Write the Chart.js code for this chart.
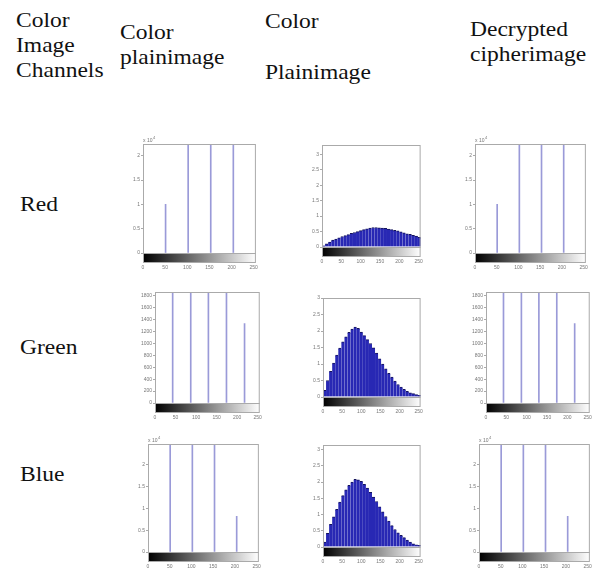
<!DOCTYPE html>
<html>
<head>
<meta charset="utf-8">
<script src="https://cdn.jsdelivr.net/npm/chart.js@4"></script>
<style>
  body { margin: 0; background: #fff; }
  #page { position: relative; width: 603px; height: 570px; overflow: hidden; }
  .txt { position: absolute; font-family: "Liberation Serif", "Times New Roman", serif; font-size: 21px; line-height: 21px; color: #111; white-space: nowrap; transform: scaleX(1.12); transform-origin: left; }
  canvas { position: absolute; }
</style>
</head>
<body>
<div id="page">
  <div class="txt" style="left:16px;top:10px">Color</div>
  <div class="txt" style="left:16px;top:35px">Image</div>
  <div class="txt" style="left:16px;top:60px">Channels</div>
  <div class="txt" style="left:120px;top:22px">Color</div>
  <div class="txt" style="left:120px;top:47px">plainimage</div>
  <div class="txt" style="left:265px;top:11px">Color</div>
  <div class="txt" style="left:265px;top:62px">Plainimage</div>
  <div class="txt" style="left:470px;top:19px">Decrypted</div>
  <div class="txt" style="left:470px;top:44px">cipherimage</div>
  <div class="txt" style="left:20px;top:194px">Red</div>
  <div class="txt" style="left:20px;top:337px">Green</div>
  <div class="txt" style="left:20px;top:464px">Blue</div>
</div>
<script>
// x axis of every imhist panel
const xTicks = [0, 50, 100, 150, 200, 250];

// stem histograms (plain image / decrypted image)
const redLevels = [51, 102, 153, 204];
const redCounts = [1.0, 2.24, 2.24, 2.24];        // x 10^4
const redTicks = [0, 0.5, 1, 1.5, 2];

const greenLevels = [43, 87, 130, 174, 218];
const greenCounts = [1860, 1860, 1860, 1860, 1330];
const greenTicks = [0, 200, 400, 600, 800, 1000, 1200, 1400, 1600, 1800];

const blueLevels = [51, 102, 153, 204];
const blueCounts = [2.47, 2.47, 2.47, 0.815];     // x 10^4
const blueTicks = [0, 0.5, 1, 1.5, 2];

// middle column histograms, read every 8 grey levels
const binCenters = [4, 12, 20, 28, 36, 44, 52, 60, 68, 76, 84, 92, 100, 108, 116, 124,
                    132, 140, 148, 156, 164, 172, 180, 188, 196, 204, 212, 220, 228, 236, 244, 252];
const redPlain = [0.04, 0.10, 0.16, 0.22, 0.26, 0.30, 0.34, 0.37, 0.40, 0.44, 0.47, 0.50, 0.53, 0.56, 0.59, 0.61,
                  0.63, 0.63, 0.62, 0.61, 0.60, 0.58, 0.56, 0.54, 0.52, 0.49, 0.46, 0.43, 0.41, 0.38, 0.35, 0.31];
const greenPlain = [0.20, 0.50, 0.78, 1.03, 1.27, 1.48, 1.67, 1.82, 1.96, 2.06, 2.12, 2.08, 1.97, 1.86, 1.74, 1.62,
                    1.49, 1.33, 1.16, 1.00, 0.85, 0.72, 0.60, 0.48, 0.38, 0.30, 0.23, 0.17, 0.13, 0.10, 0.07, 0.05];
const bluePlain = [0.15, 0.42, 0.70, 0.93, 1.16, 1.38, 1.58, 1.76, 1.90, 2.00, 2.08, 2.07, 2.02, 1.93, 1.81, 1.68,
                   1.54, 1.40, 1.24, 1.08, 0.94, 0.80, 0.66, 0.54, 0.44, 0.36, 0.29, 0.21, 0.15, 0.10, 0.07, 0.05];
const plainTicks = [0, 0.5, 1, 1.5, 2, 2.5, 3];

// box, grey colour bar and exponent label, like matlab imhist
const imhistDecor = {
  id: 'imhistDecor',
  afterDraw(chart, args, opts) {
    const ctx = chart.ctx;
    const a = chart.chartArea;
    const xs = chart.scales.x;
    const x0 = xs.getPixelForValue(0), x1 = xs.getPixelForValue(255);
    ctx.save();
    const g = ctx.createLinearGradient(x0, 0, x1, 0);
    g.addColorStop(0, '#000');
    g.addColorStop(1, '#fff');
    ctx.fillStyle = g;
    ctx.fillRect(x0, a.bottom, x1 - x0, 9);
    ctx.strokeStyle = '#aaa';
    ctx.lineWidth = 1;
    ctx.strokeRect(x0 + 0.5, a.bottom + 0.5, x1 - x0 - 1, 9);
    ctx.strokeRect(a.left + 0.5, a.top + 0.5, a.right - a.left - 1, a.bottom - a.top);
    if (opts.exp) {
      ctx.fillStyle = '#777';
      ctx.font = '5px "Liberation Sans"';
      ctx.fillText('x 10', a.left, a.top - 2);
      ctx.font = '4px "Liberation Sans"';
      ctx.fillText(opts.exp, a.left + 10, a.top - 5);
    }
    ctx.restore();
  }
};

function panel(rect, levels, counts, ticks, ymax, exp, dense) {
  const [L, T, R, B] = rect;
  const cv = document.createElement('canvas');
  const w = R - L + 24 + 7, h = B - T + 9 + 17;
  cv.width = w; cv.height = h;
  cv.style.left = (L - 24) + 'px';
  cv.style.top = (T - 9) + 'px';
  document.getElementById('page').appendChild(cv);
  const pts = levels.map((v, i) => ({ x: v, y: counts[i] }));
  const ds = dense ? {
    data: pts, backgroundColor: '#2828b4', borderColor: '#14145a',
    borderWidth: { top: 1, left: 0, right: 0, bottom: 0 }, borderSkipped: false,
    categoryPercentage: 1, barPercentage: 1
  } : {
    data: pts, backgroundColor: '#9a9ad8', barThickness: 1
  };
  new Chart(cv, {
    type: 'bar',
    data: { datasets: [ds] },
    plugins: [imhistDecor],
    options: {
      responsive: false, animation: false, devicePixelRatio: 1,
      layout: { padding: { top: 9, right: 7, left: 0, bottom: 0 } },
      plugins: { legend: { display: false }, tooltip: { enabled: false }, imhistDecor: { exp: exp } },
      scales: {
        x: {
          type: 'linear', min: 0, max: 255, offset: false,
          grid: { display: false, offset: false, drawTicks: false },
          border: { display: false },
          afterBuildTicks: s => { s.ticks = xTicks.map(v => ({ value: v })); },
          afterFit: s => { s.height = 17; },
          ticks: { padding: 12, maxRotation: 0, autoSkip: false, color: '#777', font: { size: 5, family: 'Liberation Sans' },
                   callback: v => String(v) }
        },
        y: {
          min: 0, max: ymax,
          grid: { drawOnChartArea: false, tickLength: 2, color: '#aaa' },
          border: { display: false },
          afterBuildTicks: s => { s.ticks = ticks.map(v => ({ value: v })); },
          afterFit: s => { s.width = 24; },
          ticks: { padding: 1, autoSkip: false, color: '#777', font: { size: 5, family: 'Liberation Sans' },
                   callback: v => String(v) }
        }
      }
    }
  });
}

// plain image column
panel([143, 144, 263, 253], redLevels, redCounts, redTicks, 2.24, '4', false);
panel([155, 292, 267, 403], greenLevels, greenCounts, greenTicks, 1860, null, false);
panel([148, 444, 266, 552], blueLevels, blueCounts, blueTicks, 2.47, '4', false);
// colour plain image column
panel([322, 145, 428, 247], binCenters, redPlain, plainTicks, 3.3, null, true);
panel([323, 298, 428, 397], binCenters, greenPlain, plainTicks, 3.0, null, true);
panel([323, 445, 428, 547], binCenters, bluePlain, plainTicks, 3.14, null, true);
// decrypted image column
panel([475, 144, 593, 253], redLevels, redCounts, redTicks, 2.24, '4', false);
panel([486, 292, 597, 403], greenLevels, greenCounts, greenTicks, 1860, null, false);
panel([479, 444, 597, 552], blueLevels, blueCounts, blueTicks, 2.47, '4', false);
</script>
</body>
</html>
